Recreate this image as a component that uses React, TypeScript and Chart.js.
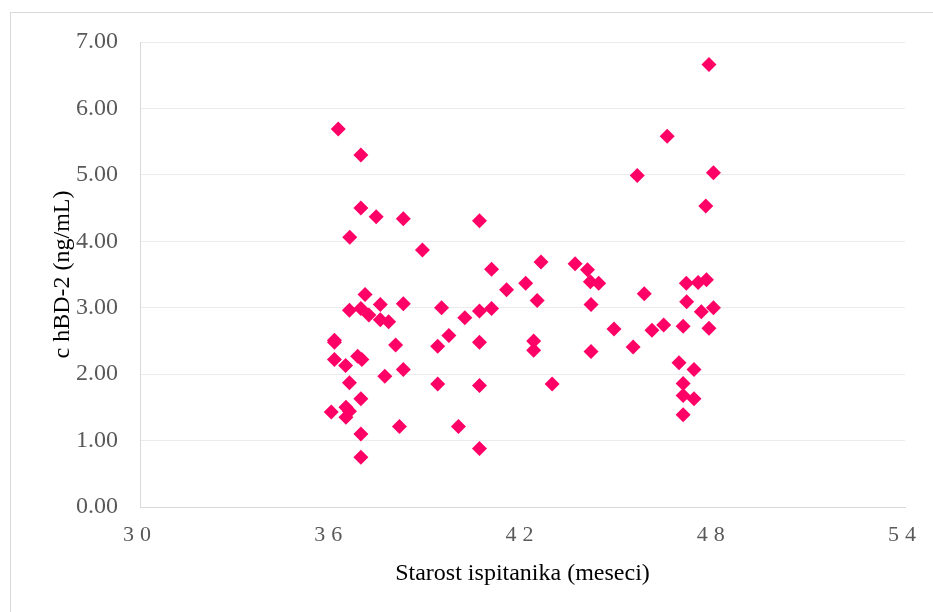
import React, { useEffect, useRef } from 'react';
import { Chart, registerables, LinearScale } from 'chart.js';

// Child age in months and the measured hBD-2 concentration (ng/mL), one entry per child
const ageMonths = [
  36.22, 36.93, 36.93, 37.41, 38.26, 36.58, 38.86, 37.06, 36.57, 36.93,
  37.18, 37.54, 37.54, 37.80, 38.26, 39.46, 39.69, 39.34, 36.10, 36.10,
  36.10, 36.45, 36.83, 36.96, 38.02, 38.26, 37.68, 36.57, 36.93, 39.34,
  36.00, 36.46, 36.57, 36.46, 36.93, 38.14, 36.93, 39.99, 40.65, 41.03,
  42.58, 43.65, 41.50, 42.10, 42.46, 40.65, 41.03, 40.19, 40.65, 42.35,
  42.35, 40.65, 42.93, 40.65, 44.04, 44.13, 44.39, 44.15, 45.82, 44.87,
  46.06, 46.43, 44.15, 45.47, 47.85, 46.54, 47.99, 45.60, 47.75, 47.14,
  47.51, 47.77, 47.15, 47.61, 47.99, 47.04, 47.85, 46.91, 47.38, 47.04,
  47.04, 47.38, 47.04,
];
const hbd2Levels = [
  5.69, 5.30, 4.50, 4.37, 4.34, 4.06, 3.87, 3.20, 2.96, 2.99,
  2.89, 3.05, 2.82, 2.79, 3.06, 3.00, 2.58, 2.42, 2.51, 2.48,
  2.22, 2.13, 2.27, 2.22, 2.44, 2.07, 1.97, 1.87, 1.63, 1.85,
  1.43, 1.50, 1.44, 1.35, 1.10, 1.21, 0.75, 1.21, 4.31, 3.58,
  3.69, 3.66, 3.27, 3.37, 3.11, 2.95, 2.99, 2.85, 2.48, 2.50,
  2.36, 1.83, 1.85, 0.88, 3.57, 3.39, 3.37, 3.05, 3.21, 2.68,
  2.66, 2.74, 2.34, 2.41, 6.66, 5.58, 5.03, 4.99, 4.53, 3.37,
  3.38, 3.42, 3.09, 2.94, 3.00, 2.72, 2.69, 2.17, 2.07, 1.86,
  1.68, 1.63, 1.39,
];

const xTickValues = [30, 36, 42, 48, 54];
const yTickValues = [0, 1, 2, 3, 4, 5, 6, 7];

const SERIF = "'Liberation Serif', 'Times New Roman', serif";
const MARKER = '#FF0066';

// Linear axis whose tick labels are drawn with extra character spacing
class SpacedLinearScale extends LinearScale {
  static id = 'spacedLinear';
  static defaults = LinearScale.defaults;
  drawLabels(chartArea: any) {
    const ctx: any = this.ctx;
    const prev = ctx.letterSpacing;
    ctx.letterSpacing = '6px';
    super.drawLabels(chartArea);
    ctx.letterSpacing = prev || '0px';
  }
}

Chart.register(...registerables, SpacedLinearScale);

export default function App() {
  const canvasRef = useRef<HTMLCanvasElement | null>(null);

  useEffect(() => {
    const canvas = canvasRef.current;
    if (!canvas) return;
    const points = ageMonths.map((x, i) => ({ x, y: hbd2Levels[i] }));
    const chart = new Chart(canvas, {
      type: 'scatter',
      data: {
        datasets: [
          {
            label: 'c hBD-2',
            data: points,
            pointStyle: 'rectRot',
            pointRadius: 7.5,
            pointHoverRadius: 7.5,
            pointBorderWidth: 0,
            backgroundColor: MARKER,
            borderColor: MARKER,
          },
        ],
      },
      options: {
        responsive: false,
        animation: false,
        events: [],
        layout: { padding: { left: 10, top: 42, right: 28, bottom: 0 } },
        plugins: {
          legend: { display: false },
          tooltip: { enabled: false },
        },
        scales: {
          x: {
            type: 'spacedLinear' as any,
            position: 'bottom',
            min: 30,
            max: 54,
            afterBuildTicks: (s: any) => {
              s.ticks = xTickValues.map((value) => ({ value }));
            },
            afterFit: (s: any) => {
              s.height = 105;
            },
            grid: { display: false, drawTicks: false },
            border: { display: true, color: '#D9D9D9', width: 1 },
            ticks: {
              padding: 15,
              color: '#595959',
              font: { family: SERIF, size: 22 },
              callback: (v: any) => String(v),
            },
            title: {
              display: true,
              text: 'Starost ispitanika (meseci)',
              color: '#000000',
              font: { family: SERIF, size: 24 },
              padding: { top: 0, bottom: 24 },
            },
          },
          y: {
            type: 'linear',
            position: 'left',
            min: 0,
            max: 7,
            afterBuildTicks: (s: any) => {
              s.ticks = yTickValues.map((value) => ({ value }));
            },
            afterFit: (s: any) => {
              s.width = 130;
            },
            grid: { display: true, color: '#EBEBEB', lineWidth: 1, drawTicks: false },
            border: { display: true, color: '#D9D9D9', width: 1 },
            ticks: {
              padding: 22,
              color: '#595959',
              font: { family: SERIF, size: 24 },
              callback: (v: any) => Number(v).toFixed(2),
            },
            title: {
              display: true,
              text: 'c hBD-2 (ng/mL)',
              color: '#000000',
              font: { family: SERIF, size: 24 },
              padding: { top: 38, bottom: 0 },
            },
          },
        },
      },
    });
    return () => chart.destroy();
  }, []);

  return (
    <div
      style={{
        position: 'fixed',
        left: 0,
        top: 0,
        width: 933,
        height: 612,
        overflow: 'hidden',
        background: '#ffffff',
      }}
    >
      <canvas
        ref={canvasRef}
        width={933}
        height={612}
        style={{ position: 'absolute', left: 0, top: 0, width: 933, height: 612 }}
      />
      <div
        style={{
          position: 'absolute',
          left: 10,
          top: 12,
          width: 1000,
          height: 1000,
          borderLeft: '1px solid #D9D9D9',
          borderTop: '1px solid #D9D9D9',
          pointerEvents: 'none',
        }}
      />
    </div>
  );
}
